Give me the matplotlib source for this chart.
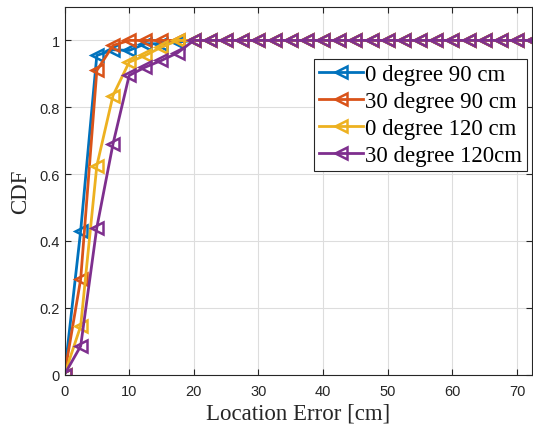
import numpy as np
import matplotlib
matplotlib.use("Agg")
import matplotlib.pyplot as plt

# Location error grid (cm) and CDF values for each setup
err_cm = np.arange(0, 75.1, 2.5)
tail = [1.0] * (len(err_cm) - 9)

cdf_0deg_90 = [0, 0.43, 0.955, 0.972, 0.97, 0.99, 0.99, 0.995, 1.0] + tail
cdf_30deg_90 = [0, 0.285, 0.91, 0.985, 1.0, 1.0, 1.0, 1.0, 1.0] + tail
cdf_0deg_120 = [0, 0.145, 0.625, 0.835, 0.935, 0.955, 0.98, 1.0, 1.0] + tail
cdf_30deg_120 = [0, 0.085, 0.44, 0.69, 0.895, 0.92, 0.94, 0.963, 1.0] + tail

labels = ["0 degree 90 cm", "30 degree 90 cm", "0 degree 120 cm", "30 degree 120cm"]
colors = ["#0072BD", "#D95319", "#EDB120", "#7E2F8E"]
series = [cdf_0deg_90, cdf_30deg_90, cdf_0deg_120, cdf_30deg_120]

W, H = 533, 431
fig = plt.figure(figsize=(W / 100, H / 100), dpi=100)
ax = fig.add_axes([64.5 / W, 1 - 375.5 / H, (532 - 64.5) / W, (375.5 - 8) / H])

for y, lab, c in zip(series, labels, colors):
    ax.plot(err_cm, y, color=c, lw=2, marker="<", markersize=9,
            markerfacecolor="none", markeredgewidth=1.8, label=lab, clip_on=True)

ax.set_xlim(0, 72.3)
ax.set_ylim(0, 1.1)
ax.set_xticks(np.arange(0, 71, 10))
ax.set_yticks([0, 0.2, 0.4, 0.6, 0.8, 1])
ax.set_yticklabels(["0", "0.2", "0.4", "0.6", "0.8", "1"])
ax.grid(True, color="#dddddd", lw=0.8)
ax.set_axisbelow(True)
ax.tick_params(direction="in", length=4, width=0.8, colors="#262626",
               labelsize=10.5, top=True, right=True)
ax.tick_params(axis="x", pad=7)
for lbl in ax.get_xticklabels() + ax.get_yticklabels():
    lbl.set_fontfamily("Liberation Sans")
for s in ax.spines.values():
    s.set_color("#262626")
    s.set_linewidth(0.8)

serif = "Liberation Serif"
ax.set_xlabel("Location Error [cm]", fontsize=16.5, family=serif, color="#262626", labelpad=3)
ax.set_ylabel("CDF", fontsize=16.5, family=serif, color="#262626", labelpad=6)

leg = ax.legend(loc="upper right", bbox_to_anchor=(527 / W, 1 - 60 / H),
                bbox_transform=fig.transFigure, prop={"family": serif, "size": 16.5},
                fancybox=False, framealpha=1, edgecolor="#262626",
                handlelength=1.9, handletextpad=0.1, borderpad=0.22,
                labelspacing=0.26, borderaxespad=0)
leg.get_frame().set_linewidth(0.8)

fig.savefig("out.png", dpi=100)
